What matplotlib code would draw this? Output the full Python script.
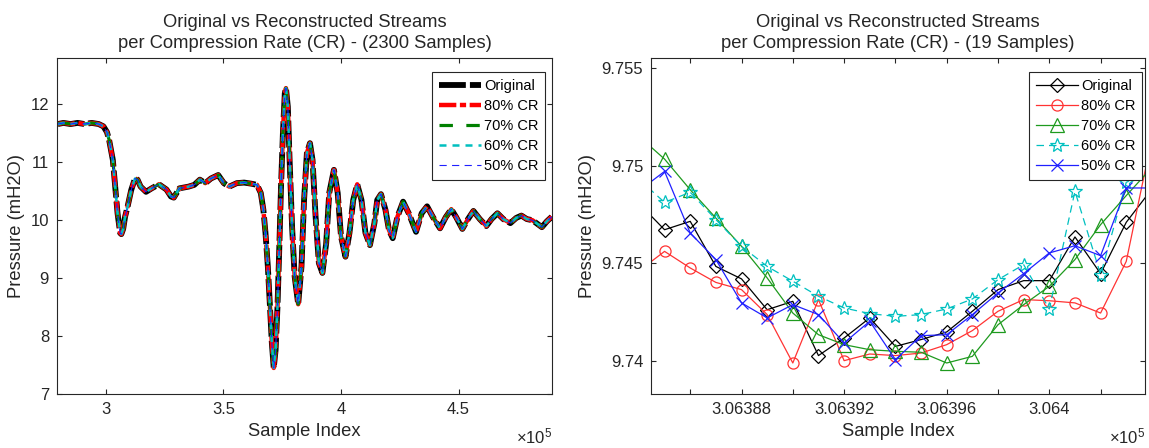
import numpy as np
import matplotlib
matplotlib.use("Agg")
import matplotlib.pyplot as plt
from matplotlib.ticker import FuncFormatter, FixedLocator

plt.rcParams['font.family'] = ['Liberation Sans', 'DejaVu Sans']
plt.rcParams['mathtext.fontset'] = 'custom'
plt.rcParams['mathtext.rm'] = 'Liberation Sans'
plt.rcParams['mathtext.it'] = 'Liberation Sans'

TXT = '#262626'

# ---- left panel: 2300-sample window ----
wide_idx = [279600, 282000, 285000, 288000, 291000, 294000, 297000, 299000, 300500, 301400,
            303000, 304000, 305000, 306100, 306600, 307400, 308200, 309300, 310800, 312400,
            313500, 314800, 317100, 319500, 322600, 325800, 327700, 328900, 331300, 335200,
            337600, 340000, 342300, 344700, 347800, 350200, 352500, 355700, 358800, 362000,
            364300, 365900, 367000, 367900, 368900, 369800, 370600, 371400, 372200, 373000,
            373700, 374500, 375300, 376100, 376600, 377400, 378100, 379200, 380300, 381800,
            383200, 384300, 385500, 386800, 387900, 389200, 390600, 392100, 393700, 395000,
            397000, 398600, 400000, 401900, 403600, 405200, 406900, 408700, 410400, 412300,
            414200, 415400, 417000, 418900, 420400, 422000, 424000, 426400, 428800, 431900,
            434300, 436600, 439000, 442100, 444500, 446900, 449000, 451600, 454000, 456300,
            459000, 461800, 464000, 466500, 469000, 472000, 474500, 476700, 479000, 481400,
            485400, 487500, 489600]
wide_p = [11.66, 11.68, 11.66, 11.68, 11.66, 11.68, 11.66, 11.62, 11.52, 11.39,
          11.04, 10.58, 10.12, 9.78, 9.76, 9.85, 10.06, 10.24, 10.52, 10.72,
          10.70, 10.58, 10.49, 10.55, 10.62, 10.53, 10.41, 10.39, 10.55, 10.58,
          10.61, 10.70, 10.64, 10.72, 10.78, 10.64, 10.58, 10.64, 10.65, 10.63,
          10.61, 10.47, 10.18, 9.78, 9.20, 8.51, 7.88, 7.45, 7.76, 8.51,
          9.43, 10.58, 11.50, 12.19, 12.28, 11.96, 11.10, 9.89, 9.03, 8.55,
          9.20, 10.35, 11.16, 11.33, 11.04, 10.06, 9.26, 9.09, 9.60, 10.47,
          10.87, 10.47, 9.72, 9.37, 9.78, 10.35, 10.62, 10.35, 9.78, 9.57,
          9.95, 10.35, 10.45, 10.18, 9.83, 9.69, 10.06, 10.32, 10.12, 9.80,
          10.12, 10.24, 10.06, 9.86, 10.05, 10.19, 10.05, 9.85, 10.02, 10.16,
          10.02, 9.90, 10.02, 10.12, 10.02, 9.95, 10.04, 10.08, 10.02, 10.00,
          9.88, 9.98, 10.06]

# ---- right panel: 19-sample zoom (plus the clipped neighbours) ----
zoom_idx = np.arange(306384, 306405)
orig_z = [9.74806, 9.74671, 9.74714, 9.74483, 9.74419, 9.74261, 9.74304, 9.74026, 9.74116, 9.74219,
          9.74073, 9.74108, 9.74147, 9.74253, 9.74364, 9.74410, 9.74410, 9.74634, 9.74446, 9.74709, 9.74880]
cr80_z = [9.74460, 9.74560, 9.74475, 9.74401, 9.74364, 9.74236, 9.73988, 9.74313, 9.74000, 9.74034,
          9.74026, 9.74039, 9.74082, 9.74154, 9.74253, 9.74313, 9.74307, 9.74296, 9.74244, 9.74509, 9.75140]
cr70_z = [9.75150, 9.75033, 9.74876, 9.74731, 9.74586, 9.74424, 9.74244, 9.74133, 9.74082, 9.74056,
          9.74048, 9.74043, 9.73988, 9.74022, 9.74184, 9.74287, 9.74381, 9.74518, 9.74697, 9.74846, 9.74990]
cr60_z = [9.74930, 9.74811, 9.74863, 9.74723, 9.74586, 9.74483, 9.74407, 9.74330, 9.74270, 9.74241,
          9.74227, 9.74236, 9.74265, 9.74316, 9.74415, 9.74492, 9.74265, 9.74868, 9.74441, 9.74914, 9.74970]
cr50_z = [9.74870, 9.74970, 9.74654, 9.74518, 9.74296, 9.74219, 9.74287, 9.74236, 9.74091, 9.74202,
          9.74005, 9.74128, 9.74133, 9.74236, 9.74347, 9.74446, 9.74552, 9.74589, 9.74538, 9.74885, 9.74885]

labels = ['Original', '80% CR', '70% CR', '60% CR', '50% CR']

fig = plt.figure(figsize=(11.49, 4.48), dpi=100)
ax1 = fig.add_axes([0.0499, 0.1205, 0.4305, 0.75])
ax2 = fig.add_axes([0.567, 0.1205, 0.4295, 0.75])


def style_axes(ax):
    for s in ax.spines.values():
        s.set_color(TXT)
        s.set_linewidth(0.8)
    ax.tick_params(direction='in', length=3.5, width=0.8, colors=TXT,
                   labelsize=12, top=True, right=True, pad=6)
    ax.set_xlabel('Sample Index', fontsize=13.2, color=TXT, labelpad=4)
    ax.set_ylabel('Pressure (mH2O)', fontsize=13.2, color=TXT, labelpad=4)
    ax.text(1.0, -0.125, r'$\times10^{5}$', transform=ax.transAxes, ha='right', va='center',
            fontsize=12, color=TXT)


def add_legend(ax, x_anchor):
    leg = ax.legend(loc='upper right', bbox_to_anchor=(x_anchor, 0.958), borderaxespad=0,
                    fontsize=10.5, handlelength=2.9, labelspacing=0.42, handletextpad=0.2,
                    borderpad=0.45, fancybox=False, framealpha=1, edgecolor=TXT)
    leg.get_frame().set_linewidth(0.8)
    return leg


# left: all reconstructions sit on top of the original
wide_styles = [
    dict(color='black', lw=4.2, ls=(0, (4.6, 0.7))),
    dict(color='#ff0000', lw=3.2, ls=(0, (3.9, 0.8, 1.4, 0.8))),
    dict(color='#008000', lw=2.3, ls=(0, (4.2, 4.2))),
    dict(color='#00bfbf', lw=1.8, ls=(0, (2.8, 2.4))),
    dict(color='#2020ff', lw=0.8, ls=(0, (6.5, 4.8))),
]
for st, lab in zip(wide_styles, labels):
    ax1.plot(wide_idx, wide_p, label=lab, **st)

ax1.set_xlim(279400, 489700)
ax1.set_ylim(7, 12.8)
ax1.xaxis.set_major_locator(FixedLocator([300000, 350000, 400000, 450000]))
ax1.yaxis.set_major_locator(FixedLocator([7, 8, 9, 10, 11, 12]))
ax1.xaxis.set_major_formatter(FuncFormatter(lambda v, p: f'{v / 1e5:g}'))
ax1.yaxis.set_major_formatter(FuncFormatter(lambda v, p: f'{v:g}'))
style_axes(ax1)
ax1.set_title('Original vs Reconstructed Streams\nper Compression Rate (CR) - (2300 Samples)',
              fontsize=13.2, color=TXT, pad=7, linespacing=1.35)
add_legend(ax1, 0.986)

# right: 19 samples, hollow markers
zoom_series = [orig_z, cr80_z, cr70_z, cr60_z, cr50_z]
zoom_styles = [
    dict(color='black', marker='D', ms=7.5, ls='-'),
    dict(color='#ff3333', marker='o', ms=8, ls='-'),
    dict(color='#1e9a1e', marker='^', ms=9.5, ls='-'),
    dict(color='#00c0c0', marker='*', ms=10, ls=(0, (6, 4))),
    dict(color='#2020ff', marker='x', ms=8, ls='-'),
]
for y, st, lab in zip(zoom_series, zoom_styles, labels):
    ax2.plot(zoom_idx, y, label=lab, lw=0.9, mfc='none', mew=0.9, **st)

ax2.set_xlim(306384.49, 306403.73)
ax2.set_ylim(9.73829, 9.75551)
ax2.xaxis.set_major_locator(FixedLocator(list(range(306386, 306403, 2))))
ax2.yaxis.set_major_locator(FixedLocator([9.74, 9.745, 9.75, 9.755]))
ax2.xaxis.set_major_formatter(FuncFormatter(lambda v, p: f'{v / 1e5:.8g}' if round(v) % 4 == 0 else ''))
ax2.yaxis.set_major_formatter(FuncFormatter(lambda v, p: f'{v:g}'))
style_axes(ax2)
ax2.set_title('Original vs Reconstructed Streams\nper Compression Rate (CR) - (19 Samples)',
              fontsize=13.2, color=TXT, pad=7, linespacing=1.35)
add_legend(ax2, 0.994)

fig.savefig('out.png', dpi=100)
